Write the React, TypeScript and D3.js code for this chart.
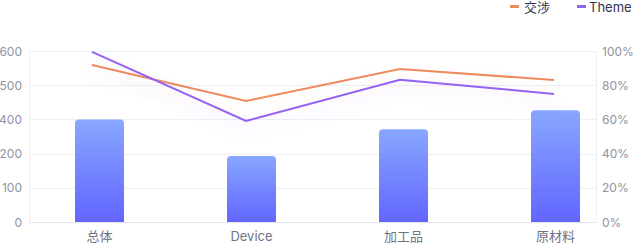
import React from "react";
import * as d3 from "d3";

const categories = ["总体", "Device", "加工品", "原材料"];
const barValues = [400, 193, 342, 427];
const seriesNames = ["交涉", "Theme"];
const negotiation = [0.918, 0.708, 0.895, 0.83];
const theme = [0.995, 0.591, 0.832, 0.749];
const leftTickValues = [0, 100, 200, 400, 500, 600];
const leftTickLabels = ["0", "100", "200", "400", "500", "600"];
const rightTickValues = [0, 0.2, 0.4, 0.6, 0.8, 1];

const W = 634;
const H = 243;
const plotLeft = 29;
const plotRight = 596;
const plotTop = 51;
const plotBottom = 222;
const FONT = "Inter, 'Noto Sans CJK SC', 'Noto Sans', sans-serif";
const ORANGE = "#EE8A5C";
const PURPLE = "#9462F3";

export default function App() {
  const leftRange = leftTickValues.map(
    (_, i) => plotBottom - (i * (plotBottom - plotTop)) / (leftTickValues.length - 1)
  );
  const yLeft = d3.scaleLinear().domain(leftTickValues).range(leftRange);
  const yRight = d3.scaleLinear().domain([0, 1]).range([plotBottom, plotTop]);
  const xBar = d3.scalePoint<string>().domain(categories).range([99.5, 555.5]);
  const xLine = d3.scalePoint<string>().domain(categories).range([92, 554]);
  const barW = 49;
  const r = 4;

  const line = d3
    .line<number>()
    .x((_, i) => xLine(categories[i]) as number)
    .y((d) => yRight(d));

  const barPath = (cx: number, top: number) => {
    const x0 = cx - barW / 2;
    const x1 = cx + barW / 2;
    const p = d3.path();
    p.moveTo(x0, plotBottom);
    p.lineTo(x0, top + r);
    p.quadraticCurveTo(x0, top, x0 + r, top);
    p.lineTo(x1 - r, top);
    p.quadraticCurveTo(x1, top, x1, top + r);
    p.lineTo(x1, plotBottom);
    p.closePath();
    return p.toString();
  };

  return (
    <svg
      width={W}
      height={H}
      style={{ position: "absolute", left: 0, top: 0, fontFamily: FONT }}
    >
      <defs>
        <linearGradient id="barGrad" x1="0" y1="0" x2="0" y2="1">
          <stop offset="0%" stopColor="#88A7FF" />
          <stop offset="100%" stopColor="#6265FF" />
        </linearGradient>
        <filter id="glowP" x="-20%" y="-50%" width="140%" height="250%">
          <feDropShadow dx="0" dy="8" stdDeviation="7" floodColor={PURPLE} floodOpacity="0.22" />
        </filter>
        <filter id="glowO" x="-20%" y="-50%" width="140%" height="250%">
          <feDropShadow dx="0" dy="8" stdDeviation="7" floodColor={ORANGE} floodOpacity="0.12" />
        </filter>
      </defs>

      {/* grid */}
      {leftTickValues.map((v, i) => (
        <line
          key={"g" + i}
          x1={plotLeft}
          x2={plotRight}
          y1={Math.round(yLeft(v)) + 0.5}
          y2={Math.round(yLeft(v)) + 0.5}
          stroke={i === 0 ? "#E3E5EB" : "#EEEFF3"}
          strokeWidth={1}
        />
      ))}
      <line x1={plotLeft + 0.5} x2={plotLeft + 0.5} y1={plotTop} y2={plotBottom} stroke="#EEEFF3" />
      <line x1={plotRight + 0.5} x2={plotRight + 0.5} y1={plotTop} y2={plotBottom} stroke="#EEEFF3" />

      {/* left ticks */}
      {leftTickValues.map((v, i) => (
        <text
          key={"l" + i}
          x={22}
          y={yLeft(v)}
          textAnchor="end"
          dominantBaseline="central"
          fontSize={12}
          fill="#8E93A3"
        >
          {leftTickLabels[i]}
        </text>
      ))}
      {/* right ticks */}
      {rightTickValues.map((v, i) => (
        <text
          key={"r" + i}
          x={602}
          y={yRight(v)}
          textAnchor="start"
          dominantBaseline="central"
          fontSize={12}
          fill="#8E93A3"
        >
          {d3.format(".0%")(v)}
        </text>
      ))}

      {/* bars */}
      {categories.map((c, i) => (
        <path key={"b" + i} d={barPath(xBar(c) as number, yLeft(barValues[i]))} fill="url(#barGrad)" />
      ))}

      {/* category labels */}
      {categories.map((c, i) => (
        <text
          key={"c" + i}
          x={xBar(c) as number}
          y={236}
          textAnchor="middle"
          dominantBaseline="central"
          fontSize={13}
          fill="#6E7385"
        >
          {c}
        </text>
      ))}

      {/* lines */}
      <path d={line(negotiation) || ""} fill="none" stroke={ORANGE} strokeWidth={2} filter="url(#glowO)" />
      <path d={line(theme) || ""} fill="none" stroke={PURPLE} strokeWidth={2} filter="url(#glowP)" />

      {/* legend */}
      <rect x={510} y={5} width={9} height={3} fill={ORANGE} />
      <text x={524} y={7} dominantBaseline="central" fontSize={13} fill="#2E3450">
        {seriesNames[0]}
      </text>
      <rect x={577} y={5} width={9} height={3} fill={PURPLE} />
      <text x={589} y={7} dominantBaseline="central" fontSize={13} fill="#2E3450">
        {seriesNames[1]}
      </text>
    </svg>
  );
}
